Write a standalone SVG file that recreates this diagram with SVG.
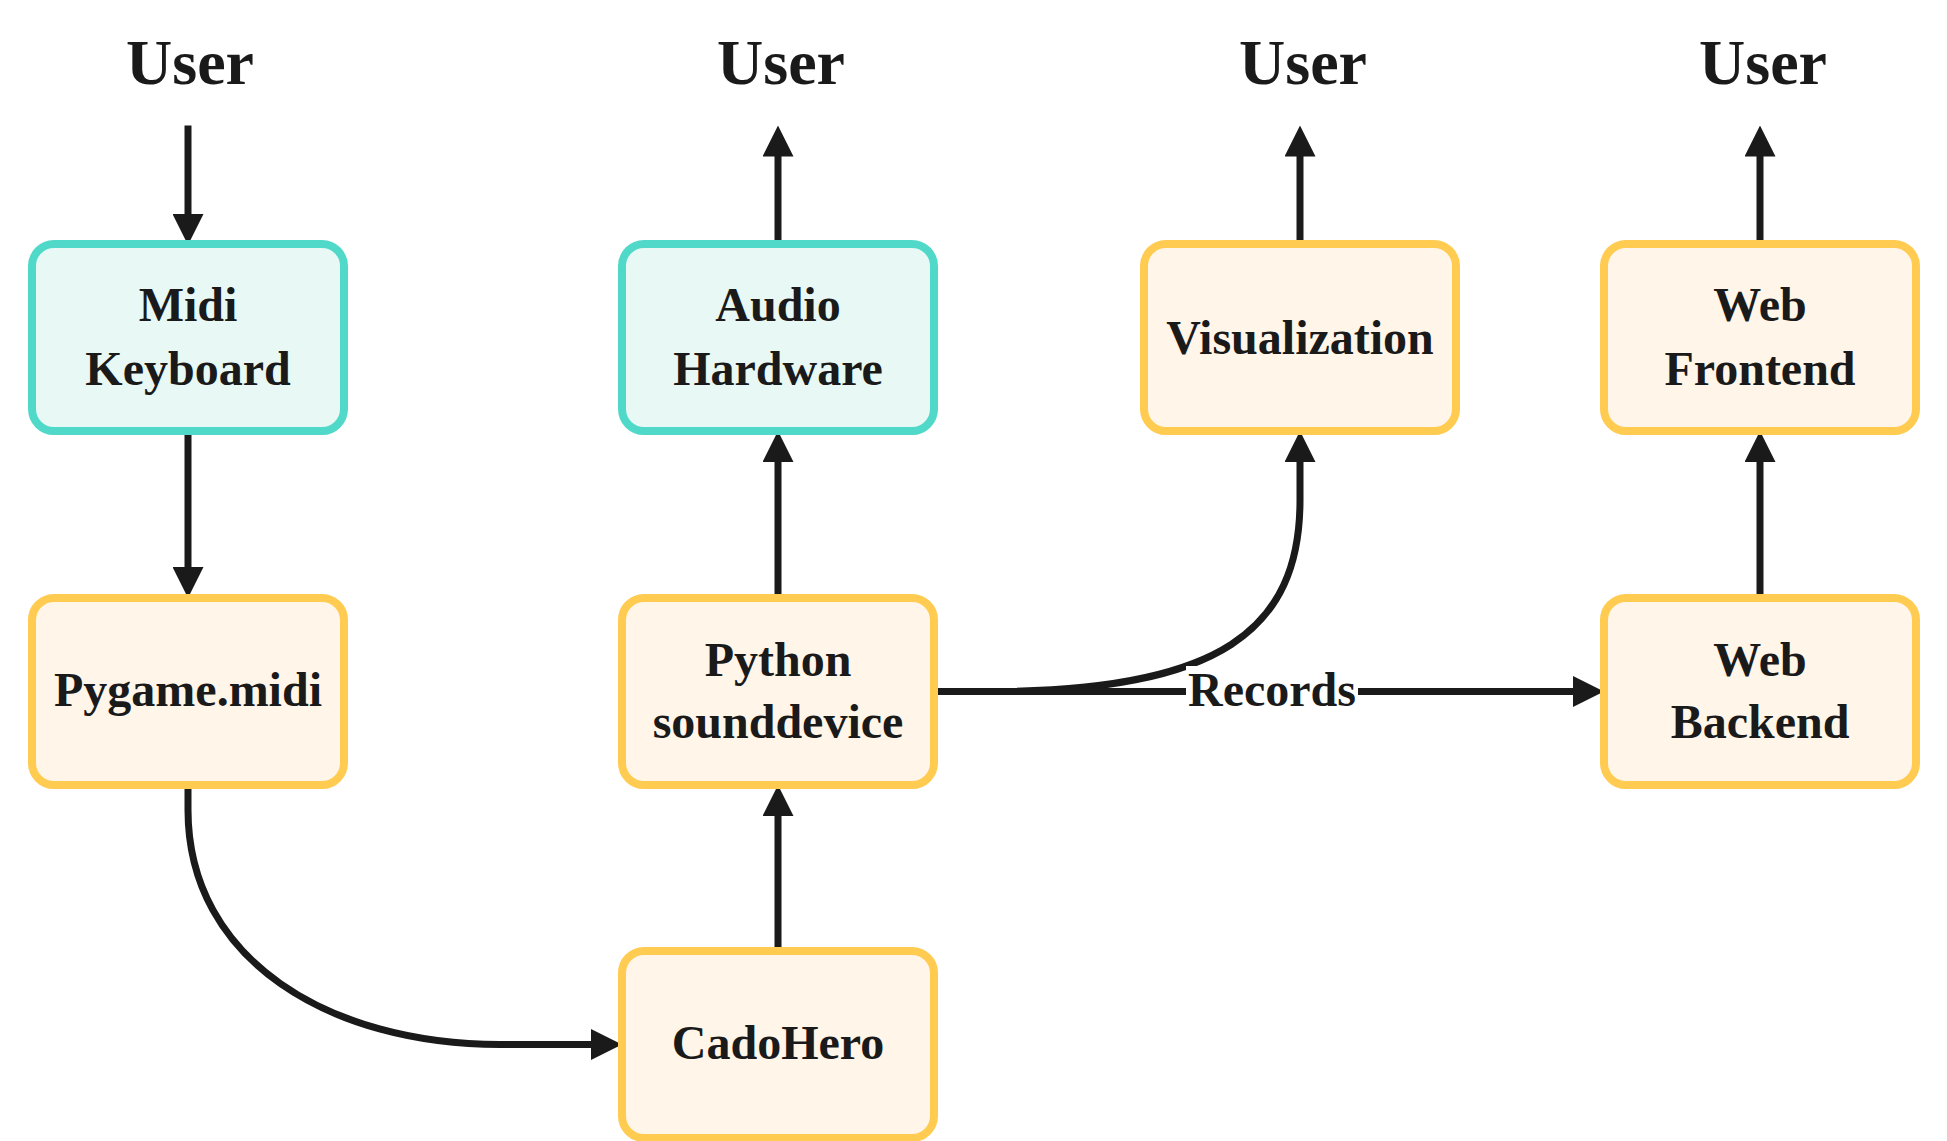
<svg xmlns="http://www.w3.org/2000/svg" width="1947" height="1141" viewBox="0 0 1947 1141">
<style>
.box{stroke-width:8}
.hw{fill:#e8f8f5;stroke:#50d9c8}
.sw{fill:#fff5e8;stroke:#ffcb50}
.t{font-family:"Liberation Serif","Times New Roman",serif;font-weight:bold;font-size:48px;fill:#1a1a1a;text-anchor:middle}
.u{font-family:"Liberation Serif","Times New Roman",serif;font-weight:bold;font-size:64px;fill:#1a1a1a;text-anchor:middle}
.c{fill:none;stroke:#1a1a1a;stroke-width:7;marker-end:url(#ah)}
</style>
<defs>
<marker id="ah" viewBox="0 0 31 31" refX="21" refY="15.5" markerWidth="31" markerHeight="31" markerUnits="userSpaceOnUse" orient="auto">
<path d="M0,0 L31,15.5 L0,31 z" fill="#1a1a1a"/>
</marker>
</defs>
<rect width="1947" height="1141" fill="#ffffff"/>
<g id="users">
<text class="u" x="190" y="84">User</text>
<text class="u" x="781" y="84">User</text>
<text class="u" x="1303" y="84">User</text>
<text class="u" x="1763" y="84">User</text>
</g>
<g id="connectors">
<path class="c" d="M188,125.5 L188,235"/>
<path class="c" d="M188,431 L188,588"/>
<path class="c" d="M188,785 L188,810 C188,960 330,1044.5 500,1044.5 L612,1044.5"/>
<path class="c" d="M778,951 L778,795"/>
<path class="c" d="M778,598 L778,441"/>
<path class="c" d="M778,244 L778,135.5"/>
<path class="c" d="M934,691.5 L990,691.5 C1220,691.5 1300,630 1300,500 L1300,441"/>
<path class="c" d="M934,691.5 L1594,691.5"/>
<path class="c" d="M1300,244 L1300,135.5"/>
<path class="c" d="M1760,598 L1760,441"/>
<path class="c" d="M1760,244 L1760,135.5"/>
<rect x="1186" y="666" width="172" height="50" fill="#ffffff"/>
<text class="t" x="1272" y="706">Records</text>
</g>
<g id="midi-keyboard">
<rect class="box hw" x="32" y="244" width="312" height="187" rx="22"/>
<text class="t" x="188" y="321">Midi</text>
<text class="t" x="188" y="385">Keyboard</text>
</g>
<g id="audio-hardware">
<rect class="box hw" x="622" y="244" width="312" height="187" rx="22"/>
<text class="t" x="778" y="321">Audio</text>
<text class="t" x="778" y="385">Hardware</text>
</g>
<g id="visualization">
<rect class="box sw" x="1144" y="244" width="312" height="187" rx="22"/>
<text class="t" x="1300" y="354">Visualization</text>
</g>
<g id="web-frontend">
<rect class="box sw" x="1604" y="244" width="312" height="187" rx="22"/>
<text class="t" x="1760" y="321">Web</text>
<text class="t" x="1760" y="385">Frontend</text>
</g>
<g id="pygame-midi">
<rect class="box sw" x="32" y="598" width="312" height="187" rx="22"/>
<text class="t" x="188" y="706">Pygame.midi</text>
</g>
<g id="python-sounddevice">
<rect class="box sw" x="622" y="598" width="312" height="187" rx="22"/>
<text class="t" x="778" y="676">Python</text>
<text class="t" x="778" y="738">sounddevice</text>
</g>
<g id="web-backend">
<rect class="box sw" x="1604" y="598" width="312" height="187" rx="22"/>
<text class="t" x="1760" y="676">Web</text>
<text class="t" x="1760" y="738">Backend</text>
</g>
<g id="cadohero">
<rect class="box sw" x="622" y="951" width="312" height="187" rx="22"/>
<text class="t" x="778" y="1059">CadoHero</text>
</g>
</svg>
